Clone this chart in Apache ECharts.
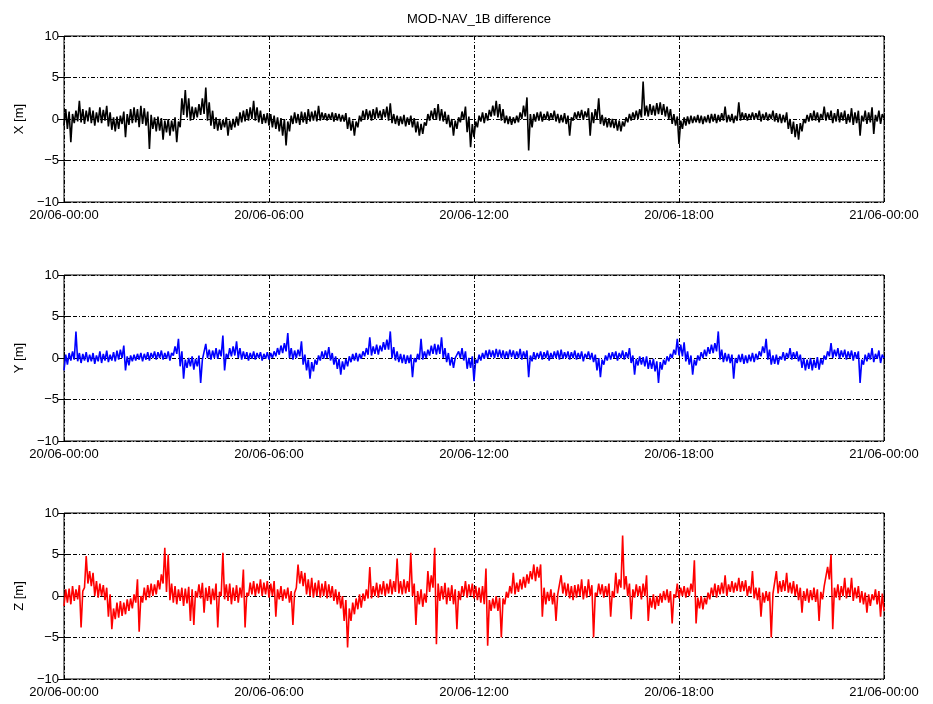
<!DOCTYPE html>
<html><head><meta charset="utf-8">
<script src="https://cdn.jsdelivr.net/npm/echarts@6/dist/echarts.min.js"></script>
<style>html,body{margin:0;padding:0;background:#fff}#c{width:933px;height:704px}</style>
</head><body><div id="c"></div>
<script>
const title = 'MOD-NAV_1B difference';
const timeTickLabels = ['20/06-00:00','20/06-06:00','20/06-12:00','20/06-18:00','21/06-00:00'];
const panelNames = ['X [m]','Y [m]','Z [m]'];
// Dense series read as a low/high envelope for each 6-minute bin (min, max),
// one row per hour (10 bins); consecutive values are 3 minutes apart.
const sampleStepMinutes = 3;

const xEnvelope = [
 -0.8,1.2, -1.2,0.9, -2.8,0.6, -0.5,1.0, -0.3,2.2, -0.4,1.2, -0.6,1.0, -0.3,1.4, -0.5,1.0, -0.8,0.8,
 -0.4,1.4, -0.5,1.1, -0.2,1.6, -0.9,0.8, -1.3,0.2, -1.5,0.3, -1.2,0.4, -0.6,0.9, -2.2,0.6, -0.7,1.2,
 -0.5,1.4, -0.4,1.2, -1.0,1.6, -0.6,1.3, -0.8,0.9, -3.6,0.5, -1.2,0.2, -1.5,0.3, -1.4,0.1, -2.5,-0.2,
 -1.6,0.0, -2.0,-0.2, -1.5,0.2, -2.8,-0.3, -1.0,2.5, 0.5,3.5, 0.2,2.5, -0.2,1.5, 0.0,1.4, 0.2,1.8,
 0.5,2.5, 0.6,3.8, -0.2,2.0, -0.8,1.0, -1.2,0.2, -1.4,0.0, -1.3,-0.1, -1.0,0.2, -2.0,-0.2, -1.3,0.0,
 -1.0,0.3, -0.8,0.8, -0.4,1.0, -0.3,1.2, -0.2,1.4, 0.0,2.2, -0.2,1.4, -0.4,1.0, -0.6,0.6, -0.5,0.7,
 -0.8,0.6, -1.0,0.4, -1.2,0.2, -1.5,0.1, -2.0,0.0, -3.2,-0.3, -1.5,0.4, -0.6,0.8, -0.5,0.6, -0.7,0.9,
 -0.4,0.8, -0.6,1.2, -0.3,0.9, -0.2,1.0, -0.3,1.6, -0.2,0.8, -0.1,0.7, -0.2,0.6, -0.1,0.8, -0.3,0.7,
 -0.2,0.6, -0.3,0.5, -0.3,0.7, -1.2,0.2, -1.4,-0.2, -2.0,-0.3, -1.0,0.4, -0.3,1.0, -0.1,1.2, 0.0,1.0,
 -0.2,1.2, 0.0,1.4, 0.1,1.0, -0.1,1.2, 0.2,1.5, -0.2,1.9, -0.5,0.6, -0.6,0.4, -0.8,0.3, -0.6,0.5,
 -0.9,0.2, -0.7,0.4, -1.0,0.1, -1.6,-0.3, -2.0,-0.6, -1.8,-0.4, -0.8,0.6, -0.2,1.0, 0.0,1.3, -0.1,1.8,
 -0.2,1.2, -0.3,0.9, -0.6,0.5, -1.0,0.0, -2.0,-0.2, -1.2,0.2, -0.4,0.9, -0.1,1.5, -1.6,0.3, -3.4,-0.6,
 -2.2,-0.3, -1.0,0.4, -0.3,0.8, -0.5,0.7, -0.2,1.1, 0.3,1.6, 0.4,2.2, 0.2,1.8, -0.2,1.2, -0.5,0.4,
 -0.6,0.3, -0.7,0.2, -0.5,0.4, -0.4,0.8, 0.0,1.6, 0.3,2.6, -3.8,0.6, -1.0,0.6, -0.3,0.8, -0.2,0.9,
 -0.3,0.6, -0.1,0.9, -0.2,0.7, 0.0,1.0, -0.3,0.6, -0.5,0.5, -0.4,0.7, -0.6,0.4, -2.0,0.2, -0.2,0.8,
 0.0,0.9, 0.1,1.1, -0.1,0.9, 0.2,1.3, -2.0,0.8, -0.5,1.2, 0.0,2.5, -0.6,0.5, -0.8,0.2, -1.0,0.1,
 -1.0,0.0, -1.1,-0.1, -1.4,-0.2, -1.5,-0.3, -0.9,0.2, -0.4,0.6, -0.2,0.8, 0.0,1.0, 0.0,1.2, 0.2,4.5,
 0.4,1.6, 0.3,1.8, 0.5,1.6, 0.4,1.9, 0.6,2.0, 0.5,1.8, 0.3,1.5, 0.0,1.2, -0.6,0.6, -0.8,0.3,
 -3.0,-0.2, -1.2,0.2, -0.8,0.3, -0.6,0.4, -0.5,0.3, -0.4,0.5, -0.5,0.4, -0.6,0.3, -0.4,0.5, -0.5,0.6,
 -0.3,0.6, -0.5,0.5, -0.3,0.7, -0.2,1.5, -0.4,0.5, -0.3,0.6, -0.5,0.4, -0.2,2.0, -0.2,0.8, -0.1,0.7,
 -0.2,0.6, 0.0,0.8, -0.1,0.7, 0.0,1.0, -0.3,0.6, -0.1,0.8, -0.2,0.6, 0.0,1.0, -0.3,0.7, -0.4,0.6,
 -0.5,0.5, -0.4,0.8, -1.2,0.0, -1.8,-0.3, -2.2,-0.6, -2.5,-0.5, -1.5,0.0, -0.5,0.5, -0.3,0.7, -0.2,1.0,
 -0.2,0.8, -0.4,0.6, 0.0,1.5, -0.2,0.8, -0.1,1.0, -0.5,0.7, -0.3,1.2, -0.4,0.8, -0.2,1.0, -0.6,0.6,
 -0.4,1.3, -0.7,0.8, -0.5,1.0, -2.0,0.4, -0.3,1.0, -0.6,0.8, -0.4,1.4, -1.8,0.5, -0.3,1.0, -0.6,0.6,
 0.1
];
const yEnvelope = [
 -1.5,0.4, -0.8,0.6, -0.3,0.8, -0.2,3.2, -0.4,0.6, -0.6,0.5, -0.3,0.7, -0.5,0.4, -0.4,0.6, -0.7,0.3,
 -0.4,0.8, -0.6,0.5, -0.3,0.9, -0.5,0.4, -0.3,0.7, -0.4,0.9, -0.2,1.0, 0.0,1.5, -1.5,0.2, -0.9,0.3,
 -0.4,0.4, -0.3,0.5, -0.2,0.6, -0.4,0.5, -0.2,0.7, -0.3,0.6, 0.0,0.8, -0.2,0.7, 0.0,0.9, -0.2,0.6,
 -0.1,0.8, -0.3,0.6, 0.3,1.4, 0.5,2.3, -1.0,0.8, -2.5,-0.2, -1.2,0.0, -1.0,0.2, -1.4,-0.1, -1.0,0.3,
 -3.0,-0.2, -0.3,1.7, 0.0,1.0, -0.2,0.9, 0.0,1.2, -0.1,1.0, 0.2,2.7, -1.5,0.5, 0.0,1.2, 0.2,1.4,
 0.3,2.0, 0.0,1.2, -0.2,0.8, -0.1,0.7, -0.3,0.6, -0.1,0.8, -0.2,0.6, 0.0,0.7, -0.3,0.5, -0.1,0.7,
 -0.2,0.6, 0.0,0.8, 0.2,1.2, 0.4,1.5, 0.6,1.8, 0.8,3.0, 0.0,1.2, -0.2,0.9, 0.0,1.0, 0.2,2.0,
 -0.8,0.4, -1.5,-0.2, -2.5,-0.5, -1.6,-0.2, -0.8,0.3, -0.3,0.8, -0.1,0.9, 0.0,1.3, -0.3,0.6, -0.8,0.2,
 -1.3,-0.1, -2.0,-0.4, -1.4,-0.1, -1.0,0.2, -0.5,0.5, -0.3,0.6, -0.4,0.5, -0.1,0.8, 0.2,1.2, 0.4,2.5,
 0.3,1.4, 0.5,1.6, 0.4,1.5, 0.8,1.9, 1.0,2.2, 1.0,3.2, 0.0,1.3, -0.3,0.8, -0.5,0.5, -0.6,0.4,
 -0.7,0.3, -0.6,0.4, -2.3,0.0, -0.5,0.5, -0.2,2.3, -0.2,0.8, 0.0,1.0, 0.3,1.5, 0.5,1.7, 0.4,1.6,
 0.5,2.5, 0.0,1.2, -0.5,0.6, -0.9,0.1, -1.2,0.0, -0.2,0.8, 0.0,1.2, -0.3,0.8, -1.3,0.0, -1.2,0.2,
 -2.8,-0.2, -0.6,0.4, -0.3,0.6, -0.1,0.9, 0.0,1.0, 0.1,0.9, 0.0,1.1, 0.1,1.0, 0.0,0.9, -0.1,0.8,
 0.0,1.0, 0.1,0.9, -0.1,0.8, 0.0,1.1, -0.2,0.8, 0.0,0.9, -2.3,0.3, -0.4,0.7, -0.2,0.6, 0.0,0.8,
 -0.2,0.7, 0.0,0.9, -0.3,0.6, -0.1,0.8, 0.0,0.9, -0.2,1.0, -0.1,0.7, 0.0,0.8, -0.2,0.7, 0.0,0.9,
 -0.2,0.6, -0.1,0.8, -0.4,0.5, 0.0,0.8, -0.2,0.6, -0.5,0.4, -1.5,0.0, -2.3,-0.2, -0.8,0.3, -0.3,0.6,
 -0.2,0.7, 0.0,0.8, -0.3,0.6, 0.0,0.9, -0.2,0.7, 0.0,1.2, -0.6,0.3, -2.0,-0.1, -0.9,0.2, -0.8,0.1,
 -1.0,0.2, -1.3,-0.2, -1.3,-0.1, -1.6,-0.4, -3.0,-0.5, -1.4,-0.2, -0.8,0.2, -0.4,0.5, 0.0,1.0, 0.4,2.3,
 0.3,1.6, 0.2,1.9, -0.4,0.8, -0.8,0.3, -2.0,-0.2, -0.9,0.3, -0.3,0.7, 0.0,1.0, 0.2,1.3, 0.5,1.6,
 0.6,1.8, 0.8,3.2, -0.2,1.0, -0.5,0.6, -0.4,0.5, -0.6,0.4, -2.5,0.0, -0.6,0.4, -0.5,0.5, -0.7,0.3,
 -0.6,0.4, -0.4,0.6, -0.5,0.5, -0.2,0.8, 0.2,1.4, 0.6,2.3, -0.2,1.0, -0.8,0.3, -0.7,0.4, -0.8,0.2,
 -0.2,0.7, -0.3,0.6, 0.0,1.2, -0.2,0.7, -0.1,0.8, -0.4,0.4, -1.2,0.0, -1.5,-0.2, -1.3,0.0, -1.5,-0.2,
 -1.2,0.1, -1.4,-0.1, -0.8,0.3, -0.2,0.8, 0.2,1.8, 0.0,1.0, 0.2,1.2, -0.1,0.9, 0.1,1.0, -0.2,0.8,
 0.0,0.9, -0.3,0.7, -0.1,0.8, -3.0,-0.2, -0.8,0.4, -0.4,0.6, -0.2,1.2, -0.5,0.5, -0.1,0.9, -0.6,0.4,
 0.0
];
const zEnvelope = [
 -1.2,0.8, -0.8,0.9, -1.0,1.2, -0.6,0.8, -0.4,1.3, -3.8,0.6, 1.0,4.8, 1.5,3.0, 1.2,2.8, 0.0,1.8,
 -0.2,1.5, 0.0,1.3, -0.5,1.0, -2.5,0.2, -4.0,-1.5, -2.8,-0.8, -2.6,-0.6, -2.4,-0.8, -2.2,-0.4, -1.8,-0.3,
 -1.5,0.2, -0.8,2.0, -4.3,0.0, -0.8,1.0, -0.5,1.3, -0.2,1.5, 0.0,1.4, 0.2,1.9, 0.8,2.6, 1.5,5.8,
 0.5,5.0, -0.5,1.5, -0.8,1.2, -1.0,0.8, -0.6,1.0, -1.2,0.9, -0.9,1.1, -3.0,0.8, -3.5,0.6, -0.2,1.4,
 -0.3,1.6, -2.0,1.0, -0.6,1.2, -1.0,0.9, -0.5,1.5, -3.8,0.5, 0.0,5.2, -0.4,1.4, -0.6,1.5, -1.0,1.0,
 -0.6,1.3, -0.8,1.0, -0.2,3.2, -3.8,0.4, 0.0,1.6, 0.2,1.8, 0.0,1.5, 0.3,2.0, 0.0,1.6, 0.2,1.8,
 -0.2,1.5, 0.0,1.8, -2.5,0.8, -0.4,1.2, -0.6,0.8, -0.3,1.0, -0.8,0.6, -3.5,0.4, 1.0,3.8, 1.5,3.0,
 1.2,2.8, 0.2,2.0, 0.0,2.2, -0.2,1.6, 0.0,1.9, -0.2,1.5, 0.0,1.8, -0.3,1.4, -0.2,1.2, -0.6,0.8,
 -1.0,0.5, -1.5,0.0, -3.0,-0.5, -6.2,-1.5, -3.0,-0.8, -2.2,-0.3, -1.6,0.2, -1.4,0.3, -0.6,0.8, -0.3,3.5,
 -0.3,1.2, 0.0,1.6, -0.2,1.4, 0.2,1.8, 0.0,1.5, 0.3,2.0, 0.2,1.8, 0.5,4.5, 0.3,1.8, 0.2,2.0,
 0.3,1.8, 0.5,5.2, 0.0,1.5, -3.5,0.6, -1.0,0.8, -1.3,0.3, -0.8,3.0, 0.5,2.5, 1.0,5.8, -5.8,1.5,
 -0.6,1.2, -0.4,1.6, -1.0,1.0, -0.6,1.3, -1.0,0.8, -4.0,0.6, -0.5,1.2, 0.0,1.8, -0.2,1.4, 0.0,1.5,
 -0.3,1.2, -0.5,1.0, -0.8,1.2, -1.0,3.3, -6.0,-0.5, -1.8,-0.3, -1.5,0.0, -1.8,-0.2, -5.0,-0.3, -1.0,0.5,
 -0.2,1.2, 0.3,2.8, 0.2,1.6, 0.5,2.0, 0.8,2.3, 1.0,2.6, 1.5,3.0, 2.0,3.8, 1.8,3.5, 2.2,3.8,
 -2.5,1.0, -1.0,0.5, -0.6,0.8, -1.0,0.4, -3.0,0.2, 0.0,2.5, 0.3,1.6, 0.0,1.5, -0.3,1.2, -0.5,1.3,
 -0.2,1.4, 0.0,2.0, -0.4,1.2, -0.2,2.0, 0.0,1.3, -5.0,0.4, 0.0,1.5, 0.2,1.4, -0.2,1.2, 0.0,1.5,
 -2.5,0.6, -0.2,2.8, 0.3,2.0, 1.0,7.3, 0.8,2.4, 0.0,1.5, -2.8,0.8, -0.2,1.4, 0.0,1.2, -0.4,1.5,
 0.0,2.5, -3.0,-0.2, -1.4,0.2, -1.6,0.0, -1.2,0.3, -0.8,0.6, -0.5,0.8, -0.8,0.6, -3.3,0.2, -0.2,1.5,
 -0.3,1.0, 0.0,1.2, -0.2,1.0, 0.0,1.5, 0.5,4.3, -3.3,-0.2, -1.5,0.0, -1.6,-0.2, -1.0,0.4, -0.4,1.0,
 0.0,1.5, -0.2,1.3, 0.2,1.6, 0.3,2.5, 0.0,1.4, 0.5,1.8, 0.4,1.6, 0.6,2.2, 0.5,1.8, 0.6,1.9,
 0.0,1.2, 0.3,3.0, -0.3,1.0, -0.5,1.0, -2.5,0.4, -0.8,0.6, -0.6,0.5, -5.0,0.3, 0.2,3.0, 0.3,1.8,
 0.5,1.9, 0.6,2.8, 0.4,1.6, 0.3,1.8, 0.0,1.4, -0.5,1.0, -2.0,0.6, -0.6,0.9, -0.8,0.7, -0.5,1.0,
 -0.7,0.8, -3.0,0.5, -0.4,1.2, 1.0,3.5, 2.0,5.0, -4.0,1.0, -0.2,1.4, -0.5,1.2, 0.0,2.2, -0.3,1.0,
 0.0,2.2, -0.6,1.0, -0.3,1.2, -0.8,0.6, -1.0,0.4, -2.0,0.2, -1.2,0.2, -0.5,0.8, -1.0,0.6, -2.5,0.3,
 -1.8
];
const seriesValues = [xEnvelope, yEnvelope, zEnvelope];
const seriesColors = ['#000000','#0000ff','#ff0000'];

const FONT = 'Liberation Sans';
const gridTops = [36, 275, 513];
const gridH = 166;
const dashDot = [4,2,1,2];
const minus = s => String(s).replace('-', '\u2212');

const grids = [], xAxes = [], yAxes = [], series = [];
gridTops.forEach((top, i) => {
  grids.push({left: 64, right: 49, top: top, height: gridH, show: true, borderColor: '#000', borderWidth: 1, backgroundColor: 'transparent'});
  xAxes.push({type: 'value', gridIndex: i, min: 0, max: 1440, interval: 360, position: 'bottom',
    axisLine: {show: false},
    axisTick: {show: true, inside: true, length: 6, lineStyle: {color: '#000'}},
    axisLabel: {show: true, margin: 7, color: '#000', fontFamily: FONT, fontSize: 13,
      formatter: v => timeTickLabels[Math.round(v / 360)]},
    splitLine: {show: true, lineStyle: {color: '#000', width: 1, type: dashDot}}});
  xAxes.push({type: 'value', gridIndex: i, min: 0, max: 1440, interval: 360, position: 'top',
    axisLine: {show: false}, axisTick: {show: true, inside: true, length: 6, lineStyle: {color: '#000'}},
    axisLabel: {show: false}, splitLine: {show: false}});
  yAxes.push({type: 'value', gridIndex: i, min: -10, max: 10, interval: 5, position: 'left',
    name: panelNames[i], nameLocation: 'middle', nameGap: 32, nameRotate: 90,
    nameTextStyle: {color: '#000', fontFamily: FONT, fontSize: 13},
    axisLine: {show: false},
    axisTick: {show: true, inside: true, length: 6, lineStyle: {color: '#000'}},
    axisLabel: {show: true, margin: 5, color: '#000', fontFamily: FONT, fontSize: 13, formatter: v => minus(v)},
    splitLine: {show: true, lineStyle: {color: '#000', width: 1, type: dashDot}}});
  yAxes.push({type: 'value', gridIndex: i, min: -10, max: 10, interval: 5, position: 'right',
    axisLine: {show: false}, axisTick: {show: true, inside: true, length: 6, lineStyle: {color: '#000'}},
    axisLabel: {show: false}, splitLine: {show: false}});
  const vals = seriesValues[i];
  series.push({type: 'line', xAxisIndex: i * 2, yAxisIndex: i * 2, symbol: 'none', animation: false,
    lineStyle: {color: seriesColors[i], width: 1.6}, z: 5,
    data: vals.map((v, k) => [k * sampleStepMinutes, v])});
});

const chart = echarts.init(document.getElementById('c'), null, {renderer: 'canvas'});
chart.setOption({
  animation: false,
  backgroundColor: '#fff',
  title: {text: title, left: 474, top: 8, textAlign: 'center',
    textStyle: {color: '#000', fontFamily: FONT, fontSize: 13, fontWeight: 'normal'}},
  grid: grids, xAxis: xAxes, yAxis: yAxes, series: series
});
</script></body></html>
